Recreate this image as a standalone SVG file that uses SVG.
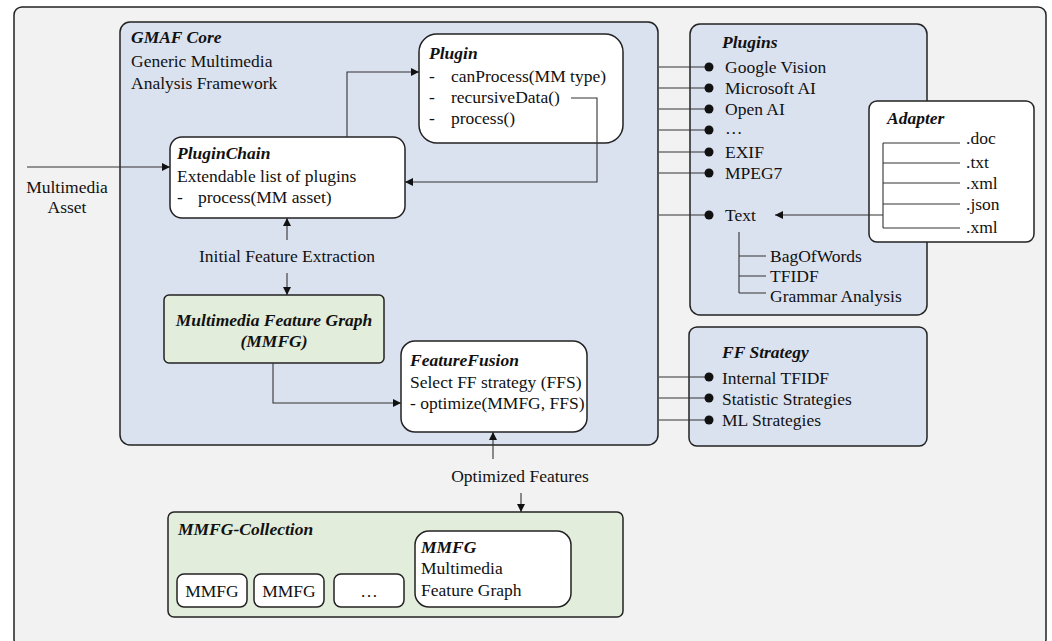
<svg xmlns="http://www.w3.org/2000/svg" width="1052" height="641" viewBox="0 0 1052 641">
<defs>
<style>
text{font-family:"Liberation Serif","Times New Roman",serif;font-size:17.5px;fill:#111}
.t{font-weight:bold;font-style:italic}
.c{text-anchor:middle}
.box{stroke:#222;stroke-width:1.5}
.blue{fill:#dbe2ef}
.green{fill:#e2eddb}
.white{fill:#fff}
.ln{fill:none;stroke:#333;stroke-width:1.1}
.dot{fill:#111}
</style>
<marker id="ah" viewBox="0 0 10 10" refX="10" refY="5" markerWidth="8" markerHeight="8" markerUnits="userSpaceOnUse" orient="auto">
<path d="M0,0 L10,5 L0,10 z" fill="#111"/>
</marker>
</defs>
<rect id="outer" x="14" y="7" width="1032" height="640" rx="8" fill="#f2f2f2" class="box"/>

<g id="gmaf-core">
<rect x="120" y="22" width="538" height="423" rx="10" class="box blue"/>
<text x="131" y="43" class="t">GMAF Core</text>
<text x="131" y="67">Generic Multimedia</text>
<text x="131" y="89">Analysis Framework</text>
</g>

<g id="plugin">
<rect x="419" y="34" width="204" height="109" rx="18" class="box white"/>
<text x="429" y="59" class="t">Plugin</text>
<text x="429" y="82">-</text><text x="451" y="82">canProcess(MM type)</text>
<text x="429" y="103">-</text><text x="451" y="103">recursiveData()</text>
<text x="429" y="124">-</text><text x="451" y="124">process()</text>
</g>

<g id="pluginchain">
<rect x="170" y="137" width="235" height="81" rx="12" class="box white"/>
<text x="177" y="159" class="t">PluginChain</text>
<text x="177" y="182">Extendable list of plugins</text>
<text x="177" y="203">-</text><text x="198" y="203">process(MM asset)</text>
</g>

<g id="mmfg">
<rect x="164" y="295" width="220" height="68" rx="5" class="box green"/>
<text x="274" y="326" class="t c">Multimedia Feature Graph</text>
<text x="274" y="347" class="t c">(MMFG)</text>
</g>

<g id="featurefusion">
<rect x="401" y="341" width="186" height="91" rx="14" class="box white"/>
<text x="410" y="366" class="t">FeatureFusion</text>
<text x="410" y="388">Select FF strategy (FFS)</text>
<text x="410" y="409">- optimize(MMFG, FFS)</text>
</g>

<g id="plugins">
<rect x="690" y="24" width="237" height="291" rx="10" class="box blue"/>
<text x="722" y="48" class="t">Plugins</text>
<text x="725" y="73">Google Vision</text>
<text x="725" y="94">Microsoft AI</text>
<text x="725" y="115">Open AI</text>
<text x="725" y="134">…</text>
<text x="725" y="158">EXIF</text>
<text x="725" y="179">MPEG7</text>
<text x="725" y="221">Text</text>
<path class="ln" d="M739,232 V293 M739,256 H766 M739,276 H766 M739,293 H766"/>
<text x="770" y="262">BagOfWords</text>
<text x="770" y="282">TFIDF</text>
<text x="770" y="302">Grammar Analysis</text>
</g>

<g id="adapter">
<rect x="869" y="101" width="165" height="141" rx="8" class="box white"/>
<text x="887" y="124" class="t">Adapter</text>
<path class="ln" d="M883,143 V228 M883,143 H960 M883,163 H960 M883,183 H960 M883,204 H960 M883,228 H960"/>
<text x="966" y="144">.doc</text>
<text x="966" y="168">.txt</text>
<text x="966" y="189">.xml</text>
<text x="966" y="210">.json</text>
<text x="966" y="233">.xml</text>
</g>

<g id="ff-strategy">
<rect x="689" y="327" width="238" height="119" rx="8" class="box blue"/>
<text x="722" y="358" class="t">FF Strategy</text>
<text x="722" y="384">Internal TFIDF</text>
<text x="722" y="405">Statistic Strategies</text>
<text x="722" y="426">ML Strategies</text>
</g>

<g id="mmfg-collection">
<rect x="168" y="512" width="455" height="105" rx="6" class="box green"/>
<text x="178" y="535" class="t">MMFG-Collection</text>
<rect x="177" y="574" width="70" height="33" rx="7" class="box white"/>
<text x="212" y="597" class="c">MMFG</text>
<rect x="254" y="574" width="70" height="33" rx="7" class="box white"/>
<text x="289" y="597" class="c">MMFG</text>
<rect x="334" y="574" width="70" height="33" rx="7" class="box white"/>
<text x="369" y="597" class="c">…</text>
<rect x="415" y="531" width="156" height="76" rx="14" class="box white"/>
<text x="421" y="553" class="t">MMFG</text>
<text x="421" y="574">Multimedia</text>
<text x="421" y="596">Feature Graph</text>
</g>

<g id="labels">
<text x="67" y="193" class="c">Multimedia</text>
<text x="67" y="213" class="c">Asset</text>
<text x="287" y="262" class="c">Initial Feature Extraction</text>
<text x="520" y="482" class="c">Optimized Features</text>
</g>

<g id="connectors">
<path class="ln" d="M27,167 H170" marker-end="url(#ah)"/>
<path class="ln" d="M347,137 V72 H419" marker-end="url(#ah)"/>
<path class="ln" d="M571,98 H597 V182 H405" marker-end="url(#ah)"/>
<path class="ln" d="M287,240 V218" marker-end="url(#ah)"/>
<path class="ln" d="M287,273 V295" marker-end="url(#ah)"/>
<path class="ln" d="M273,363 V403 H401" marker-end="url(#ah)"/>
<path class="ln" d="M493,459 V432" marker-end="url(#ah)"/>
<path class="ln" d="M521,493 V512" marker-end="url(#ah)"/>
<path class="ln" d="M883,215 H775" marker-end="url(#ah)"/>
<path class="ln" d="M659,67 H709 M659,88 H709 M659,109 H709 M659,130 H709 M659,152 H709 M659,173 H709 M659,215 H709 M659,377 H709 M659,398 H709 M659,420 H709"/>
<g class="dot">
<circle cx="709" cy="67" r="4.5"/>
<circle cx="709" cy="88" r="4.5"/>
<circle cx="709" cy="109" r="4.5"/>
<circle cx="709" cy="130" r="4.5"/>
<circle cx="709" cy="152" r="4.5"/>
<circle cx="709" cy="173" r="4.5"/>
<circle cx="709" cy="215" r="4.5"/>
<circle cx="709" cy="377" r="4.5"/>
<circle cx="709" cy="398" r="4.5"/>
<circle cx="709" cy="420" r="4.5"/>
</g>
</g>
</svg>
